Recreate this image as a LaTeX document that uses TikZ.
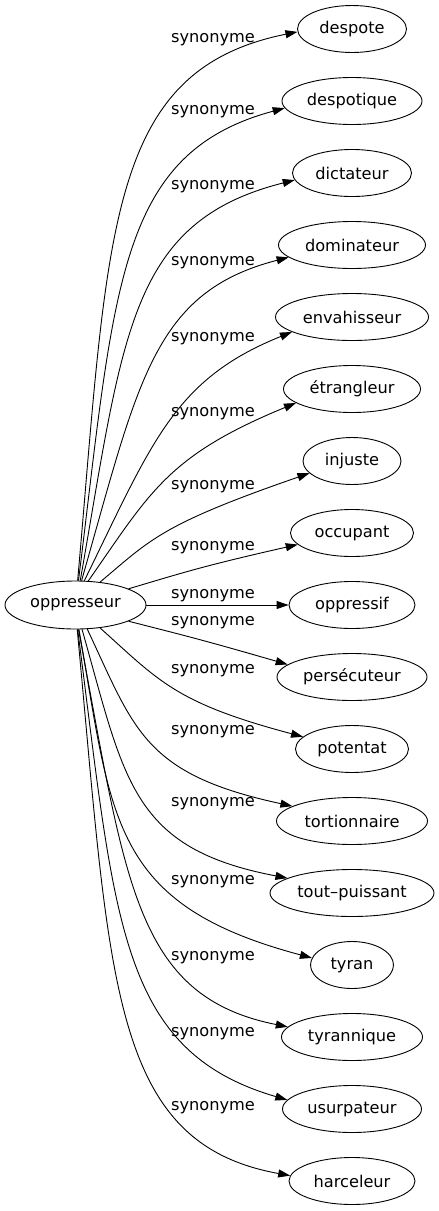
\documentclass[tikz,border=0pt]{standalone}
\usepackage{fontspec}
\newfontfamily\dvfont{DejaVu Sans}
\usetikzlibrary{shapes.geometric,arrows.meta,calc}
\newcommand\gfont{\dvfont\fontsize{16.2pt}{19pt}\selectfont}
\newcommand\synedge[4]{\draw[edgeline] (o.#1) .. controls ($(o.#1)!0.68!(#4)$) and ($(#2.#3)!1.1!(#4)$) .. (#2.#3);}
\begin{document}
\begin{tikzpicture}[x=1pt,y=1pt,
  nd/.style={draw, ellipse, line width=0.9pt, inner sep=0pt, minimum height=47pt, font=\gfont},
  lab/.style={inner sep=0pt, font=\gfont},
  edgeline/.style={line width=0.9pt, -{Triangle[length=12pt,width=8pt]}}]
\useasboundingbox (0,0) rectangle (439,-1211);
\node[nd, minimum width=141pt, minimum height=48pt] (o) at (75.5,-605) {oppresseur};
\node[nd, minimum width=109pt] (t1) at (352,-29) {despote};
\node[nd, minimum width=140pt] (t2) at (352,-101) {despotique};
\node[nd, minimum width=119pt] (t3) at (352,-173) {dictateur};
\node[nd, minimum width=147pt] (t4) at (352,-245) {dominateur};
\node[nd, minimum width=153pt] (t5) at (352,-317) {envahisseur};
\node[nd, minimum width=137pt] (t6) at (352,-389) {étrangleur};
\node[nd, minimum width=98pt] (t7) at (352,-461) {injuste};
\node[nd, minimum width=123pt] (t8) at (352,-533) {occupant};
\node[nd, minimum width=126pt] (t9) at (352,-605) {oppressif};
\node[nd, minimum width=150pt] (t10) at (352,-677) {persécuteur};
\node[nd, minimum width=113pt] (t11) at (352,-749) {potentat};
\node[nd, minimum width=151pt] (t12) at (352,-821) {tortionnaire};
\node[nd, minimum width=164pt] (t13) at (352,-893) {tout–puissant};
\node[nd, minimum width=83pt] (t14) at (352,-965) {tyran};
\node[nd, minimum width=141pt] (t15) at (352,-1037) {tyrannique};
\node[nd, minimum width=139pt] (t16) at (352,-1109) {usurpateur};
\node[nd, minimum width=126pt] (t17) at (352,-1181) {harceleur};
\node[lab] (l1) at (213,-40) {synonyme};
\node[lab] (l2) at (213,-111.5) {synonyme};
\node[lab] (l3) at (213,-186.5) {synonyme};
\node[lab] (l4) at (213,-262.5) {synonyme};
\node[lab] (l5) at (213,-338.5) {synonyme};
\node[lab] (l6) at (213,-414) {synonyme};
\node[lab] (l7) at (213,-486.5) {synonyme};
\node[lab] (l8) at (213,-547.5) {synonyme};
\node[lab] (l9) at (213,-595.5) {synonyme};
\node[lab] (l10) at (213,-623) {synonyme};
\node[lab] (l11) at (213,-670.5) {synonyme};
\node[lab] (l12) at (213,-731.5) {synonyme};
\node[lab] (l13) at (213,-804) {synonyme};
\node[lab] (l14) at (213,-881.5) {synonyme};
\node[lab] (l15) at (213,-957.3) {synonyme};
\node[lab] (l16) at (213,-1033.3) {synonyme};
\node[lab] (l17) at (213,-1107.5) {synonyme};
\coordinate (b1) at (123,-67);
\coordinate (b2) at (132,-149);
\coordinate (b3) at (144,-218);
\coordinate (b4) at (165,-289);
\coordinate (b5) at (185,-375);
\coordinate (b6) at (179,-451);
\coordinate (b7) at (174,-520);
\coordinate (b8) at (212,-564);
\coordinate (b10) at (210,-642);
\coordinate (b11) at (187,-706);
\coordinate (b12) at (157,-777);
\coordinate (b13) at (145,-851);
\coordinate (b14) at (128,-909);
\coordinate (b15) at (148,-999);
\coordinate (b16) at (133,-1055);
\coordinate (b17) at (126,-1146);
\synedge{85}{t1}{183}{b1}
\synedge{83}{t2}{186}{b2}
\synedge{79}{t3}{187}{b3}
\synedge{76}{t4}{191}{b4}
\synedge{70}{t5}{194}{b5}
\synedge{62}{t6}{194}{b6}
\synedge{43}{t7}{196}{b7}
\synedge{17}{t8}{192}{b8}
\draw[edgeline] (o.east) -- (t9.west);
\synedge{343}{t10}{169}{b10}
\synedge{317}{t11}{166}{b11}
\synedge{296}{t12}{166}{b12}
\synedge{285}{t13}{167}{b13}
\synedge{278}{t14}{170}{b14}
\synedge{277}{t15}{171}{b15}
\synedge{275}{t16}{172}{b16}
\synedge{274}{t17}{175}{b17}
\end{tikzpicture}
\end{document}
